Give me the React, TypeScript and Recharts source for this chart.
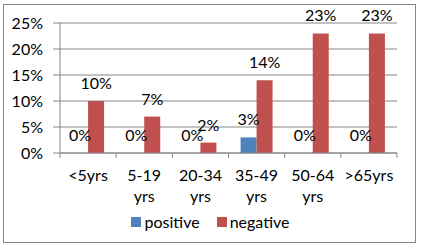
import React from 'react';
import { BarChart, Bar, XAxis, YAxis, CartesianGrid, Legend, LabelList } from 'recharts';

const categories = ['<5yrs', '5-19 yrs', '20-34 yrs', '35-49 yrs', '50-64 yrs', '>65yrs'];
const positive = [0, 0, 0, 3, 0, 0];
const negative = [10, 7, 2, 14, 23, 23];
const yTicks = [0, 5, 10, 15, 20, 25];
const seriesOrder = ['positive', 'negative'];

const data = categories.map((c, i) => ({ name: c, positive: positive[i], negative: negative[i] }));

const FONT = 'Lato, "Liberation Sans", sans-serif';
const GRID = '#868686';

const XTick = (props: any) => {
  const { x, y, payload, index, visibleTicksCount } = props;
  const half = payload.offset ?? 0;
  const lines = String(payload.value).split(' ');
  return (
    <g>
      <line x1={x - half} x2={x - half} y1={y} y2={y + 5} stroke={GRID} strokeWidth={1} />
      {index === visibleTicksCount - 1 && (
        <line x1={x + half} x2={x + half} y1={y} y2={y + 5} stroke={GRID} strokeWidth={1} />
      )}
      {lines.map((l, i) => (
        <text key={i} x={x} y={y + 28 + i * 21} textAnchor="middle" fontFamily={FONT} fontSize={16} fill="#000">
          {l}
        </text>
      ))}
    </g>
  );
};

const LegendContent = (props: any) => {
  const payload = [...(props.payload || [])].sort(
    (a: any, b: any) => seriesOrder.indexOf(a.dataKey) - seriesOrder.indexOf(b.dataKey)
  );
  return (
    <div style={{ height: 35, display: 'flex', justifyContent: 'center', alignItems: 'flex-start', fontFamily: FONT, fontSize: 16, lineHeight: '18px' }}>
      {payload.map((p: any, i: number) => (
        <div key={i} style={{ display: 'flex', alignItems: 'center', marginLeft: i === 0 ? 0 : 17 }}>
          <span style={{ display: 'inline-block', width: 10, height: 10, background: p.color, marginRight: 3 }} />
          <span style={{ color: '#000' }}>{p.value}</span>
        </div>
      ))}
    </div>
  );
};

const labelStyle = { fontFamily: FONT, fontSize: 16, fill: '#000' };

export default function App() {
  return (
    <div style={{ position: 'absolute', left: 0, top: 0, width: 421, height: 248, background: '#fff' }}>
      <div style={{ position: 'absolute', left: 3, top: 4, width: 413, height: 239, border: '1px solid #868686', boxSizing: 'border-box' }} />
      <BarChart
        width={421}
        height={248}
        data={data}
        margin={{ top: 23, right: 24, bottom: 0, left: 0 }}
        barCategoryGap="21.5%"
        barGap={0}
      >
        <CartesianGrid vertical={false} stroke={GRID} strokeDasharray="" />
        <XAxis
          dataKey="name"
          height={60}
          tickLine={false}
          tickSize={0}
          tickMargin={0}
          axisLine={{ stroke: GRID }}
          tick={<XTick />}
          interval={0}
        />
        <YAxis
          width={60}
          domain={[0, 25]}
          ticks={yTicks}
          tickFormatter={(v: number) => `${v}%`}
          tickSize={7}
          tickMargin={10}
          tickLine={{ stroke: GRID }}
          axisLine={{ stroke: GRID }}
          tick={{ fontFamily: FONT, fontSize: 16, fill: '#000' }}
          interval={0}
        />
        <Legend content={<LegendContent />} wrapperStyle={{ left: 0, width: 421 }} />
        <Bar dataKey="positive" fill="#4F81BD" minPointSize={0.01} isAnimationActive={false}>
          <LabelList dataKey="positive" position="top" offset={12} formatter={(v: number) => `${v}%`} style={labelStyle} />
        </Bar>
        <Bar dataKey="negative" fill="#C0504D" minPointSize={0.01} isAnimationActive={false}>
          <LabelList dataKey="negative" position="top" offset={12} formatter={(v: number) => `${v}%`} style={labelStyle} />
        </Bar>
      </BarChart>
    </div>
  );
}
